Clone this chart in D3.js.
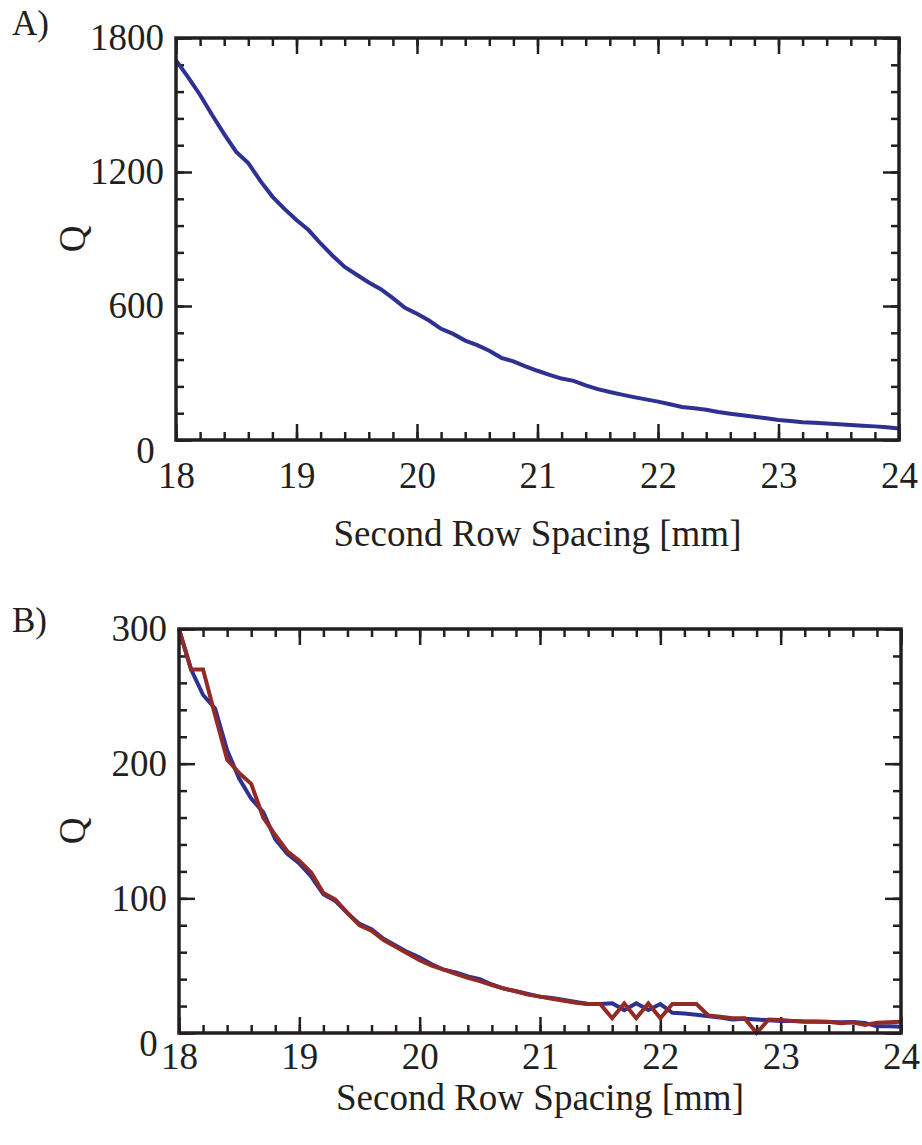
<!DOCTYPE html>
<html>
<head>
<meta charset="utf-8">
<script src="https://cdn.jsdelivr.net/npm/d3@7"></script>
<style>
  body { margin: 0; background: #fff; }
  svg { display: block; }
</style>
</head>
<body>
<svg width="922" height="1145"></svg>
<script>
// spacing values [mm]
var spacing = [18.0, 18.1, 18.2, 18.3, 18.4, 18.5, 18.6, 18.7, 18.8, 18.9,
    19.0, 19.1, 19.2, 19.3, 19.4, 19.5, 19.6, 19.7, 19.8, 19.9,
    20.0, 20.1, 20.2, 20.3, 20.4, 20.5, 20.6, 20.7, 20.8, 20.9,
    21.0, 21.1, 21.2, 21.3, 21.4, 21.5, 21.6, 21.7, 21.8, 21.9,
    22.0, 22.1, 22.2, 22.3, 22.4, 22.5, 22.6, 22.7, 22.8, 22.9,
    23.0, 23.1, 23.2, 23.3, 23.4, 23.5, 23.6, 23.7, 23.8, 23.9, 24.0];

// panel A
var qA = [1700, 1625, 1545, 1455, 1370, 1290, 1240, 1160, 1090, 1035,
    985, 940, 880, 825, 775, 740, 705, 675, 635, 592,
    565, 535, 498, 475, 445, 425, 400, 368, 352, 330,
    310, 292, 275, 265, 245, 228, 215, 203, 192, 182,
    172, 160, 148, 142, 135, 125, 118, 111, 104, 97,
    90, 85, 80, 77, 74, 70, 67, 64, 61, 57, 52];

// panel B
var qBblue = [300, 270, 251, 241, 210, 189, 174, 164, 144, 133,
    126, 116, 103, 98, 89, 81, 77, 70, 65, 60,
    56, 51, 47, 45, 42, 40, 36, 33, 31, 29,
    27, 26, 24.5, 23, 21.5, 21.5, 22, 17, 22, 17,
    21.5, 15, 14.5, 13.5, 12.5, 11.5, 10, 10.5, 10, 9.5,
    9, 9, 8.5, 8.5, 8.2, 8, 8.2, 7.5, 5, 5, 4.7];
var qBred = [300, 270, 270, 236, 203, 193, 185, 160, 147, 135,
    128, 119, 104, 99, 89, 80, 76, 69, 64, 59,
    54, 50, 47, 44, 41, 38.5, 35.5, 33, 31, 28.5,
    27, 25.5, 24, 22.5, 21.5, 21.5, 11, 22, 11, 22,
    11, 21.5, 21.5, 21.5, 13, 12, 11, 11, 0, 10,
    9.7, 9, 8.4, 8.4, 8.4, 7.2, 8, 6, 7.7, 8, 8.4];

var xTicks = [18, 19, 20, 21, 22, 23, 24];
var yTicksA = [0, 600, 1200, 1800];
var yTicksB = [0, 100, 200, 300];

var svg = d3.select("svg");
var ink = "#231f20";
var font = "Liberation Serif, Times New Roman, serif";
var fs = "37px";

function panel(p) {
    var x = d3.scaleLinear().domain([18, 24]).range([p.left, p.right]);
    var y = d3.scaleLinear().domain(p.ydom).range([p.bottom, p.top]);
    var g = svg.append("g");

    var xMinor = d3.range(18, 24.001, 0.2);
    var yMinor = d3.range(p.ydom[0], p.ydom[1] + 0.001, p.ydom[1] / 15);

    function styleAxis(sel) {
        sel.select(".domain").remove();
        sel.selectAll("line").attr("stroke", ink).attr("stroke-width", 2.5);
        sel.selectAll("text").attr("fill", ink).style("font-family", font).style("font-size", fs);
    }

    // bottom
    g.append("g").attr("transform", "translate(0," + p.bottom + ")")
        .call(d3.axisBottom(x).tickValues(xMinor).tickSize(-8).tickFormat(""))
        .call(styleAxis);
    g.append("g").attr("transform", "translate(0," + p.bottom + ")")
        .call(d3.axisBottom(x).tickValues(xTicks).tickSize(-16).tickPadding(p.xpad).tickFormat(d3.format("d")))
        .call(styleAxis);
    // top
    g.append("g").attr("transform", "translate(0," + p.top + ")")
        .call(d3.axisTop(x).tickValues(xMinor).tickSize(-8).tickFormat(""))
        .call(styleAxis);
    g.append("g").attr("transform", "translate(0," + p.top + ")")
        .call(d3.axisTop(x).tickValues(xTicks).tickSize(-16).tickFormat(""))
        .call(styleAxis);
    // left
    g.append("g").attr("transform", "translate(" + p.left + ",0)")
        .call(d3.axisLeft(y).tickValues(yMinor).tickSize(-8).tickFormat(""))
        .call(styleAxis);
    var yl = g.append("g").attr("transform", "translate(" + p.left + ",0)")
        .call(d3.axisLeft(y).tickValues(p.yticks).tickSize(-16).tickPadding(12).tickFormat(d3.format("d")))
        .call(styleAxis);
    yl.selectAll(".tick text").filter(function(d) { return d === 0; })
        .attr("dx", "-0.25em").attr("dy", "0.62em");
    // right
    g.append("g").attr("transform", "translate(" + p.right + ",0)")
        .call(d3.axisRight(y).tickValues(yMinor).tickSize(-8).tickFormat(""))
        .call(styleAxis);
    g.append("g").attr("transform", "translate(" + p.right + ",0)")
        .call(d3.axisRight(y).tickValues(p.yticks).tickSize(-16).tickFormat(""))
        .call(styleAxis);

    // curves
    var line = d3.line()
        .x(function(d, i) { return x(spacing[i]); })
        .y(function(d) { return y(d); });
    p.series.forEach(function(s) {
        g.append("path")
            .datum(s.values)
            .attr("fill", "none")
            .attr("stroke", s.color)
            .attr("stroke-width", 4)
            .attr("stroke-linejoin", "miter")
            .attr("d", line);
    });

    // frame
    g.append("rect")
        .attr("x", p.left).attr("y", p.top)
        .attr("width", p.right - p.left).attr("height", p.bottom - p.top)
        .attr("fill", "none").attr("stroke", ink).attr("stroke-width", 3.5);

    // labels
    g.append("text")
        .attr("x", (p.left + p.right) / 2).attr("y", p.titleY)
        .attr("text-anchor", "middle")
        .style("font-family", font).style("font-size", fs).attr("fill", ink)
        .text("Second Row Spacing [mm]");
    g.append("text")
        .attr("transform", "translate(" + 85 + "," + (p.top + p.bottom) / 2 + ")rotate(-90)")
        .attr("text-anchor", "middle")
        .style("font-family", font).style("font-size", fs).attr("fill", ink)
        .text("Q");
    g.append("text")
        .attr("x", 12).attr("y", p.tagY)
        .style("font-family", font).style("font-size", "35px").attr("fill", ink)
        .text(p.tag);
}

panel({
    left: 176, right: 899, top: 38, bottom: 440,
    ydom: [0, 1800], yticks: yTicksA, xpad: 22, titleY: 546, tagY: 35, tag: "A)",
    series: [{ values: qA, color: "#2e3192" }]
});

panel({
    left: 179, right: 901, top: 629, bottom: 1033,
    ydom: [0, 300], yticks: yTicksB, xpad: 10, titleY: 1110, tagY: 632, tag: "B)",
    series: [{ values: qBblue, color: "#2e3192" }, { values: qBred, color: "#922b26" }]
});
</script>
</body>
</html>
